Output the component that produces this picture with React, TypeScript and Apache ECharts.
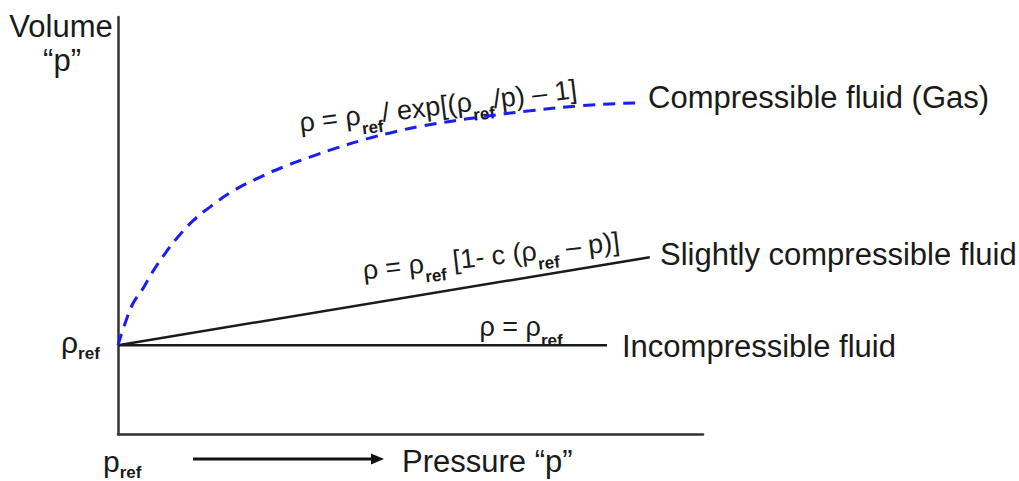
import React, { useEffect, useRef } from "react";
import * as echarts from "echarts";

// Reference density (volume axis value where every curve starts)
const rhoRef = 2.13;

// Compressible fluid (gas) curve
const gasPressure = [0, 0.14, 0.26, 0.41, 0.58, 0.8, 1.01, 1.28, 1.57, 1.97, 2.43, 2.82, 3.28, 3.74, 4.31, 4.65, 5.21, 6.19, 7.04, 7.9, 8.84];
const gasVolume = [2.13, 2.73, 3.14, 3.45, 3.86, 4.32, 4.7, 5.11, 5.44, 5.83, 6.16, 6.4, 6.64, 6.86, 7.1, 7.22, 7.39, 7.6, 7.75, 7.87, 7.94];

// Slightly compressible fluid line
const slightPressure = [0, 9.09];
const slightVolume = [rhoRef, 4.24];

// Incompressible fluid line
const incompPressure = [0, 8.36];
const incompVolume = [rhoRef, rhoRef];

const FONT = "'Liberation Sans', Arial, Helvetica, sans-serif";
const INK = "#1a1a1a";

const zip = (xs: number[], ys: number[]) => xs.map((x, i) => [x, ys[i]]);

// rich-text styles: m = main glyphs, s = subscript dropped to the bottom of the line box
const richStyles = (main: number, sub: number, lineHeight: number) => ({
  m: { fontSize: main, fontFamily: FONT, fill: INK, lineHeight, verticalAlign: "middle" },
  s: { fontSize: sub, fontFamily: FONT, fontWeight: "bold", fill: INK, lineHeight: sub, verticalAlign: "bottom" },
});

const plainText = (text: string, x: number, y: number, size: number, align = "left") => ({
  type: "text",
  x,
  y,
  silent: true,
  style: {
    text,
    fill: INK,
    font: `${size}px ${FONT}`,
    align,
    textAlign: align,
    verticalAlign: "middle",
    textVerticalAlign: "middle",
  },
});

const richText = (
  text: string,
  x: number,
  y: number,
  main: number,
  sub: number,
  lineHeight: number,
  rotationDeg = 0,
  align = "center"
) => ({
  type: "text",
  x,
  y,
  rotation: (rotationDeg * Math.PI) / 180,
  silent: true,
  style: {
    text,
    fill: INK,
    font: `${main}px ${FONT}`,
    align,
    textAlign: align,
    verticalAlign: "middle",
    textVerticalAlign: "middle",
    rich: richStyles(main, sub, lineHeight),
  },
});

export default function App() {
  const ref = useRef<HTMLDivElement>(null);

  useEffect(() => {
    if (!ref.current) return;
    const chart = echarts.init(ref.current, undefined, { renderer: "svg" });

    const axisLine = { show: true, lineStyle: { color: "#333", width: 2.5 } };

    chart.setOption({
      animation: false,
      backgroundColor: "#ffffff",
      grid: { left: 118, top: 17, right: 316, bottom: 47, containLabel: false },
      xAxis: {
        type: "value",
        min: 0,
        max: 10,
        axisLine,
        axisTick: { show: false },
        axisLabel: { show: false },
        splitLine: { show: false },
      },
      yAxis: {
        type: "value",
        min: 0,
        max: 10,
        axisLine,
        axisTick: { show: false },
        axisLabel: { show: false },
        splitLine: { show: false },
      },
      series: [
        {
          name: "Incompressible fluid",
          type: "line",
          data: zip(incompPressure, incompVolume),
          symbol: "none",
          lineStyle: { color: INK, width: 2.5 },
        },
        {
          name: "Slightly compressible fluid",
          type: "line",
          data: zip(slightPressure, slightVolume),
          symbol: "none",
          lineStyle: { color: INK, width: 2.5 },
        },
        {
          name: "Compressible fluid (Gas)",
          type: "line",
          data: zip(gasPressure, gasVolume),
          symbol: "none",
          smooth: true,
          lineStyle: { color: "#1c1cf5", width: 3, type: [12, 8] },
        },
      ],
      graphic: [
        plainText("Volume", 61, 26, 31, "center"),
        plainText("\u201Cp\u201D", 62, 60, 31, "center"),
        richText("{m|\u03C1}{s|ref}", 61, 342, 30, 17, 40, 0, "left"),
        richText("{m|p}{s|ref}", 103, 461, 30, 17, 40, 0, "left"),
        plainText("Pressure \u201Cp\u201D", 402, 461, 31),
        plainText("Compressible fluid (Gas)", 648, 97, 31),
        plainText("Slightly compressible fluid", 660, 254, 31),
        plainText("Incompressible fluid", 622, 346, 31),
        richText(
          "{m|\u03C1 = \u03C1}{s|ref}{m|/ exp[(\u03C1}{s|ref}{m|/p) \u2013 1]}",
          438,
          106,
          27,
          17,
          44,
          7
        ),
        richText(
          "{m|\u03C1 = \u03C1}{s|ref}{m| [1- c (\u03C1}{s|ref}{m| \u2013 p)]}",
          491,
          256,
          27,
          17,
          44,
          6.5
        ),
        richText("{m|\u03C1 = \u03C1}{s|ref}", 521, 327, 27, 17, 44, 0),
        // arrow pointing along increasing pressure
        {
          type: "line",
          silent: true,
          shape: { x1: 193, y1: 459, x2: 374, y2: 459 },
          style: { stroke: "#111", lineWidth: 3 },
        },
        {
          type: "polygon",
          silent: true,
          shape: { points: [[371, 453.5], [384, 459], [371, 464.5]] },
          style: { fill: "#111" },
        },
      ],
    });

    return () => chart.dispose();
  }, []);

  return (
    <div
      ref={ref}
      style={{ position: "absolute", left: 0, top: 0, width: 1019, height: 481, background: "#fff" }}
    />
  );
}
